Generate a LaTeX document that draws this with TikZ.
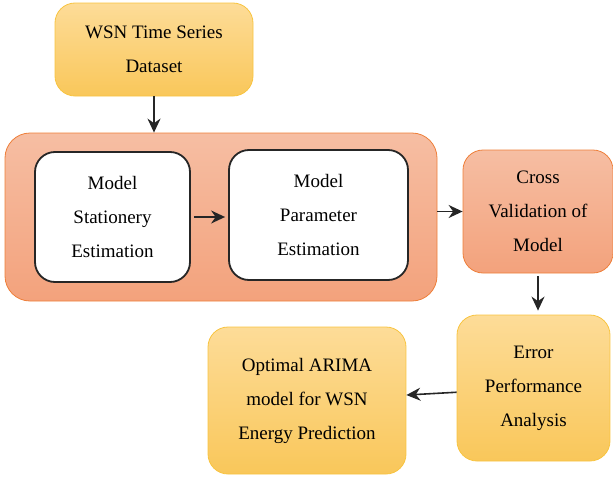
\documentclass[tikz,border=0pt]{standalone}
\usepackage{fontspec}
\setmainfont{Liberation Serif}
\usetikzlibrary{arrows.meta}
\definecolor{ylwtop}{HTML}{FDDC98}
\definecolor{ylwbot}{HTML}{F9C75A}
\definecolor{ylwline}{HTML}{F8C440}
\definecolor{salmtop}{HTML}{F6BEA3}
\definecolor{salmbot}{HTML}{F3A27C}
\definecolor{salmline}{HTML}{EE7F3A}
\tikzset{
  ybox/.style={draw=ylwline, line width=0.8pt, rounded corners=20pt,
    top color=ylwtop, bottom color=ylwbot, align=center},
  sbox/.style={draw=salmline, line width=0.8pt, rounded corners=20pt,
    top color=salmtop, bottom color=salmbot, align=center},
  wbox/.style={draw=black!85, line width=1.8pt, rounded corners=20pt,
    fill=white, align=center},
  flow/.style={-{Stealth[length=14pt,width=13pt]}, line width=1.6pt, black!85}
}
\begin{document}
\begin{tikzpicture}[x=1pt, y=-1pt, font=\rmfamily\fontsize{19}{34}\selectfont]
    \useasboundingbox (0,0) rectangle (613,479);
    \node[ybox, minimum width=198pt, minimum height=93pt] (data) at (154,49.5) {WSN Time Series\\Dataset};
    \node[sbox, rounded corners=25pt, minimum width=432pt, minimum height=168pt] (est) at (221,217) {};
    \node[wbox, minimum width=155pt, minimum height=130pt] (stat) at (112.5,217) {Model\\Stationery\\Estimation};
    \node[wbox, minimum width=179pt, minimum height=130pt] (param) at (318.5,215) {Model\\Parameter\\Estimation};
    \node[sbox, minimum width=150pt, minimum height=123pt] (cross) at (538,211.5) {Cross\\Validation of\\Model};
    \node[ybox, minimum width=153pt, minimum height=146pt] (error) at (533.5,388) {Error\\Performance\\Analysis};
    \node[ybox, minimum width=198pt, minimum height=147pt] (opt) at (307,400.5) {Optimal ARIMA\\model for WSN\\Energy Prediction};
    % connectors
    \draw[flow] (data.south) -- (data.south |- est.north);
    \draw[flow, shorten <=3pt, shorten >=3pt] (stat.east) -- (stat.east -| param.west);
    \draw[flow] (est.east |- cross.west) -- (cross.west);
    \draw[flow, shorten <=3pt, shorten >=4pt] (cross.south) -- (cross.south |- error.north);
    \draw[flow] (error) -- (opt);
\end{tikzpicture}
\end{document}
